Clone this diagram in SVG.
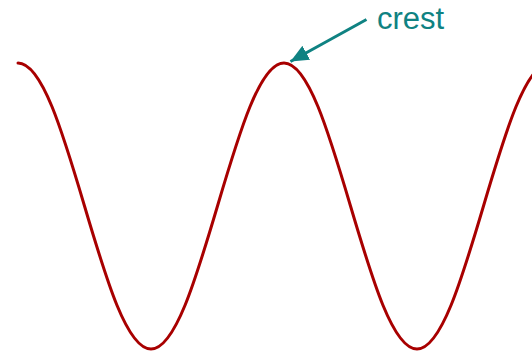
<svg xmlns="http://www.w3.org/2000/svg" width="532" height="354" viewBox="0 0 532 354">
<style>
.wave{fill:none;stroke:#a80000;stroke-width:3;stroke-linecap:round}
.conn{fill:none;stroke:#0f8282;stroke-width:3}
.lbl{font-family:"Liberation Sans",Arial,sans-serif;font-size:31px;fill:#0f8282}
</style>
<defs>
<marker id="ah" markerUnits="userSpaceOnUse" markerWidth="20" markerHeight="16" refX="18" refY="8" orient="auto">
<path d="M0,0 L18,8 L0,16 Z" fill="#0f8282"/>
</marker>
</defs>
<rect width="532" height="354" fill="#ffffff"/>
<g id="wave">
<path class="wave" d="M18,63 C42.07,63 62.81,132.74 84.5,206 C106.19,279.26 126.93,349 151,349 C175.07,349 195.81,279.26 217.5,206 C239.19,132.74 259.93,63 284,63 C308.07,63 328.81,132.74 350.5,206 C372.19,279.26 392.93,349 417,349 C441.07,349 461.81,279.26 483.5,206 C505.19,132.74 525.93,63 550,63"/>
</g>
<g id="connectors">
<line class="conn" x1="366.5" y1="19.5" x2="290.5" y2="61.5" marker-end="url(#ah)"/>
</g>
<g id="crest-label">
<text class="lbl" x="377" y="28.5">crest</text>
</g>
</svg>
